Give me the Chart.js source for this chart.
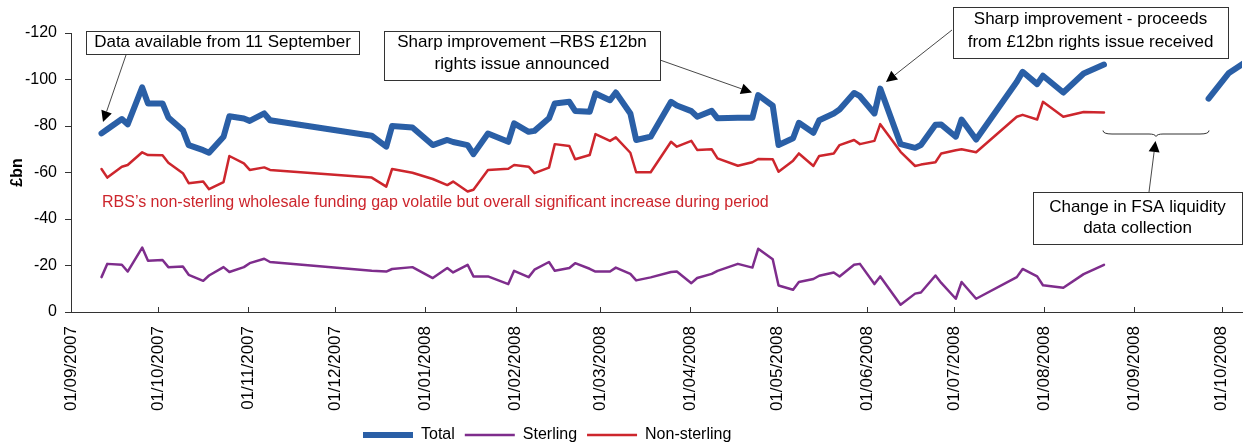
<!DOCTYPE html>
<html>
<head>
<meta charset="utf-8">
<script src="https://cdn.jsdelivr.net/npm/chart.js@4.4.1/dist/chart.umd.min.js"></script>
<style>
html,body{margin:0;padding:0;background:#fff;}
#wrap{width:1245px;height:445px;}
</style>
</head>
<body>
<div id="wrap"><canvas id="c" width="1245" height="445"></canvas></div>
<script>
// ---- Data (£bn, wholesale funding gap; negative = funding gap) ----
const dates = [
"2007-09-11","2007-09-13","2007-09-18","2007-09-20","2007-09-25","2007-09-27",
"2007-10-02","2007-10-04","2007-10-09","2007-10-11","2007-10-16","2007-10-18",
"2007-10-23","2007-10-25","2007-10-30","2007-11-01","2007-11-06","2007-11-08",
"2007-12-13","2007-12-18","2007-12-20","2007-12-27",
"2008-01-03","2008-01-08","2008-01-10","2008-01-15","2008-01-17","2008-01-22",
"2008-01-29","2008-01-31","2008-02-05","2008-02-07","2008-02-12","2008-02-14",
"2008-02-19","2008-02-21","2008-02-26","2008-02-28","2008-03-04","2008-03-06",
"2008-03-11","2008-03-13","2008-03-18","2008-03-25","2008-03-27","2008-04-01",
"2008-04-03","2008-04-08","2008-04-10","2008-04-17","2008-04-22","2008-04-24",
"2008-04-29","2008-05-01","2008-05-06","2008-05-08","2008-05-13","2008-05-15",
"2008-05-20","2008-05-22","2008-05-27","2008-05-29","2008-06-03","2008-06-05",
"2008-06-12","2008-06-17","2008-06-19","2008-06-24","2008-06-26","2008-07-01",
"2008-07-03","2008-07-08","2008-07-22","2008-07-24","2008-07-29","2008-07-31",
"2008-08-07","2008-08-14","2008-08-21"
];
const total = [
-76.8,-78.6,-83.0,-80.7,-96.6,-89.7,
-89.7,-83.7,-78.2,-71.8,-69.6,-68.5,
-75.4,-84.2,-83.2,-82.2,-85.4,-82.5,
-75.8,-71.1,-80.0,-79.4,
-71.8,-74.0,-73.1,-71.8,-67.9,-76.8,
-73.2,-81.1,-77.5,-77.9,-83.3,-89.7,
-90.4,-86.5,-86.1,-94.0,-91.1,-94.4,
-85.4,-74.0,-75.4,-90.4,-88.8,-86.4,
-84.0,-86.5,-83.3,-83.6,-83.5,-93.3,
-88.7,-71.8,-74.7,-81.4,-77.1,-82.5,
-85.4,-87.1,-94.2,-92.8,-85.4,-96.1,
-72.2,-70.6,-71.8,-80.5,-80.6,-75.4,
-82.8,-74.2,-99.0,-103.3,-98.0,-101.6,
-94.4,-102.6,-106.4
];
const nonSterling = [
-61.5,-57.8,-62.5,-63.2,-68.7,-67.5,
-67.4,-64.2,-59.7,-55.4,-56.1,-52.8,
-55.9,-67.1,-63.9,-61.1,-62.2,-61.1,
-57.8,-53.9,-61.5,-59.9,
-57.2,-54.6,-56.1,-51.8,-52.6,-61.1,
-61.6,-63.2,-62.5,-59.7,-62.1,-72.2,
-71.4,-65.7,-67.5,-76.5,-73.6,-75.1,
-68.5,-60.1,-60.1,-73.2,-71.1,-73.6,
-69.7,-70.0,-66.1,-62.9,-64.4,-65.8,
-65.7,-60.3,-65.1,-68.2,-62.8,-67.1,
-68.2,-71.8,-74.0,-72.2,-73.6,-80.8,
-68.9,-62.8,-63.4,-64.4,-68.2,-69.6,
-70.0,-68.7,-84.0,-84.8,-82.8,-90.4,
-84.0,-86.0,-85.8
];
const sterling = [
-15.0,-20.7,-20.3,-17.4,-27.7,-22.0,
-22.4,-19.3,-19.6,-16.0,-13.4,-15.7,
-19.3,-17.2,-19.3,-21.0,-22.9,-21.5,
-17.7,-17.4,-18.5,-19.3,
-14.6,-18.9,-17.0,-20.3,-15.3,-15.3,
-12.0,-17.7,-15.0,-18.2,-21.5,-17.7,
-18.9,-21.0,-18.6,-17.4,-17.4,-19.1,
-16.4,-13.6,-14.9,-17.2,-17.4,-12.4,
-14.6,-16.4,-17.7,-20.7,-19.1,-27.2,
-22.7,-11.4,-9.6,-12.9,-14.2,-15.6,
-17.0,-15.3,-20.3,-20.7,-12.0,-15.3,
-3.1,-7.9,-8.4,-15.7,-12.5,-5.7,
-12.9,-5.7,-15.0,-18.5,-15.3,-11.5,
-10.4,-16.3,-20.3
];
// Total after the change in FSA liquidity data collection
const newBasisDates = ["2008-09-26","2008-10-03","2008-10-10"];
const totalNewBasis = [-91.8,-102.8,-108.6];

const xTickDates = ["2007-09-01","2007-10-01","2007-11-01","2007-12-01","2008-01-01",
"2008-02-01","2008-03-01","2008-04-01","2008-05-01","2008-06-01","2008-07-01",
"2008-08-01","2008-09-01","2008-10-01"];
const yTicks = [-120,-100,-80,-60,-40,-20,0];
const xRange = ["2007-09-01","2008-10-08"];

// ---- helpers ----
function toMs(s, hour){ const p = s.split('-').map(Number); return Date.UTC(p[0], p[1]-1, p[2], hour||0); }
function fmt(v){ const d = new Date(v); const dd = String(d.getUTCDate()).padStart(2,'0');
  const mm = String(d.getUTCMonth()+1).padStart(2,'0'); return dd + '/' + mm + '/' + d.getUTCFullYear(); }
function pts(ds, vs){ return ds.map((d,i)=>({x: toMs(d,12), y: vs[i]})); }

const totalData = pts(dates, total)
  .concat([{x: toMs(newBasisDates[0],12), y: null}])
  .concat(pts(newBasisDates, totalNewBasis));

const FONT = '"Liberation Sans", Arial, Helvetica, sans-serif';
Chart.defaults.font.family = FONT;
Chart.defaults.color = '#000';

const BLUE = '#2a5fa6', PURPLE = '#7e2d8c', RED = '#cd262d', AXIS = '#333';

const notes = {
  boxes: [
    {rect:[86,31,359,54], lines:["Data available from 11 September"], ys:[42.5]},
    {rect:[384,31,660,80], lines:["Sharp improvement \u2013RBS \u00a312bn","rights issue announced"], ys:[42,64]},
    {rect:[953,7,1228,58], lines:["Sharp improvement - proceeds","from \u00a312bn rights issue received"], ys:[19.5,42]},
    {rect:[1033,192,1242,244], lines:["Change in FSA liquidity","data collection"], ys:[207,228]}
  ],
  arrows: [
    [126,55,103,122],
    [660,60,752,92.5],
    [952,30,886,82],
    [1149,192,1155.5,141]
  ],
  brace: {x0:1103, x1:1209, yTop:130.5, yMid:134},
  label: {text:"RBS\u2019s non-sterling wholesale funding gap volatile but overall significant increase during period", x:102, y:203}
};

function drawArrow(ctx, x0, y0, x1, y1){
  const a = Math.atan2(y1-y0, x1-x0), L = 11, W = 5.5;
  const bx = x1 - L*Math.cos(a), by = y1 - L*Math.sin(a);
  ctx.beginPath(); ctx.moveTo(x0,y0); ctx.lineTo(bx,by); ctx.stroke();
  ctx.beginPath(); ctx.moveTo(x1,y1);
  ctx.lineTo(bx + W*Math.sin(a), by - W*Math.cos(a));
  ctx.lineTo(bx - W*Math.sin(a), by + W*Math.cos(a));
  ctx.closePath(); ctx.fill();
}

const notesPlugin = {
  id: 'notes',
  afterLayout(chart){
    const lg = chart.legend;
    if (lg){ lg.left += 353; lg.right += 353; lg.top += 5; lg.bottom += 5; }
  },
  afterDraw(chart){
    const ctx = chart.ctx, xs = chart.scales.x, area = chart.chartArea;
    ctx.save();
    // inside tick marks on the date axis
    ctx.strokeStyle = AXIS; ctx.lineWidth = 1;
    xTickDates.forEach(d => {
      const px = Math.round(xs.getPixelForValue(toMs(d))) + 0.5;
      ctx.beginPath(); ctx.moveTo(px, area.bottom); ctx.lineTo(px, area.bottom - 5); ctx.stroke();
    });
    // red note
    ctx.fillStyle = RED; ctx.font = '16px ' + FONT; ctx.textAlign = 'left'; ctx.textBaseline = 'middle';
    ctx.fillText(notes.label.text, notes.label.x, notes.label.y);
    // boxes
    ctx.font = '17px ' + FONT; ctx.textAlign = 'center';
    notes.boxes.forEach(b => {
      const [l,t,r,btm] = b.rect;
      ctx.fillStyle = '#fff'; ctx.fillRect(l,t,r-l,btm-t);
      ctx.strokeStyle = '#333'; ctx.lineWidth = 1;
      ctx.strokeRect(l+0.5,t+0.5,r-l,btm-t);
      ctx.fillStyle = '#000';
      b.lines.forEach((s,i) => ctx.fillText(s, (l+r)/2, b.ys[i]));
    });
    // arrows
    ctx.strokeStyle = '#333'; ctx.fillStyle = '#000'; ctx.lineWidth = 0.9;
    notes.arrows.forEach(a => drawArrow(ctx, a[0], a[1], a[2], a[3]));
    // brace
    const br = notes.brace, xc = (br.x0 + br.x1)/2;
    ctx.beginPath(); ctx.lineWidth = 1;
    ctx.moveTo(br.x0, br.yTop);
    ctx.quadraticCurveTo(br.x0, br.yMid, br.x0 + 9, br.yMid);
    ctx.lineTo(xc - 7, br.yMid);
    ctx.quadraticCurveTo(xc - 1, br.yMid, xc, br.yMid + 2.5);
    ctx.quadraticCurveTo(xc + 1, br.yMid, xc + 7, br.yMid);
    ctx.lineTo(br.x1 - 9, br.yMid);
    ctx.quadraticCurveTo(br.x1, br.yMid, br.x1, br.yTop);
    ctx.stroke();
    ctx.restore();
  }
};

new Chart(document.getElementById('c'), {
  type: 'line',
  data: {
    datasets: [
      {label:'Total', data: totalData, borderColor: BLUE, backgroundColor: BLUE, borderWidth: 6,
       borderJoinStyle:'round', borderCapStyle:'round', pointRadius:0, pointStyle:'line', spanGaps:false,
       clip:{left:4, top:4, right:0, bottom:4}},
      {label:'Sterling', data: pts(dates, sterling), borderColor: PURPLE, backgroundColor: PURPLE, borderWidth: 2.5,
       borderJoinStyle:'round', borderCapStyle:'round', pointRadius:0, pointStyle:'line'},
      {label:'Non-sterling', data: pts(dates, nonSterling), borderColor: RED, backgroundColor: RED, borderWidth: 2.5,
       borderJoinStyle:'round', borderCapStyle:'round', pointRadius:0, pointStyle:'line'}
    ]
  },
  options: {
    responsive: false,
    animation: false,
    devicePixelRatio: 1,
    layout: {padding: {top: 33, right: 3, bottom: 0, left: 0}},
    plugins: {
      legend: {
        position: 'bottom', align: 'start', maxHeight: 33,
        labels: {usePointStyle: true, pointStyleWidth: 50, boxHeight: 16, padding: 10,
                 font: {size: 16}, color: '#000'}
      },
      tooltip: {enabled: false}
    },
    scales: {
      x: {
        type: 'linear',
        min: toMs(xRange[0]), max: toMs(xRange[1]),
        afterBuildTicks: s => { s.ticks = xTickDates.map(d => ({value: toMs(d)})); },
        afterFit: s => { s.height = 100; s.paddingLeft = 0; s.paddingRight = 0; },
        ticks: {callback: v => fmt(v), minRotation: 90, maxRotation: 90, autoSkip: false,
                padding: 14, font: {size: 17}, color: '#000'},
        grid: {drawOnChartArea: false, drawTicks: false},
        border: {display: true, color: AXIS, width: 1}
      },
      y: {
        reverse: true, min: -120, max: 0,
        afterBuildTicks: s => { s.ticks = yTicks.map(v => ({value: v})); },
        afterFit: s => { s.width = 71; },
        ticks: {padding: 8, font: {size: 16}, color: '#000'},
        grid: {drawOnChartArea: false, drawTicks: true, tickLength: 6, color: AXIS},
        border: {display: true, color: AXIS, width: 1},
        title: {display: true, text: '\u00a3bn', font: {size: 16, weight: 'bold'}, color: '#000', padding: {top: 8}}
      }
    }
  },
  plugins: [notesPlugin]
});
</script>
</body>
</html>
